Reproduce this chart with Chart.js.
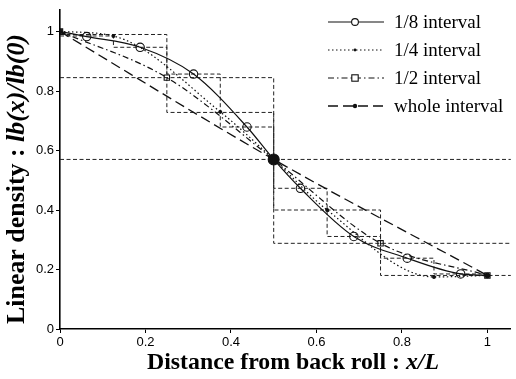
<!DOCTYPE html>
<html><head><meta charset="utf-8">
<script src="https://cdn.jsdelivr.net/npm/chart.js@4/dist/chart.umd.min.js"></script>
<style>html,body{margin:0;padding:0;background:#fff}canvas{display:block}</style>
</head><body>
<canvas id="c" width="516" height="379"></canvas>
<script>
// ---- data ----
const xTicks = [0, 0.2, 0.4, 0.6, 0.8, 1];
const yTicks = [0, 0.2, 0.4, 0.6, 0.8, 1];

const x8 = [0, 0.0625, 0.1875, 0.3125, 0.4375, 0.5, 0.5625, 0.6875, 0.8125, 0.9375, 1];
const y8 = [1.0, 0.983, 0.947, 0.857, 0.679, 0.57, 0.473, 0.311, 0.238, 0.185, 0.18];
const x4 = [0, 0.125, 0.375, 0.5, 0.625, 0.875, 1];
const y4 = [1.0, 0.985, 0.73, 0.57, 0.40, 0.175, 0.18];
const x2 = [0, 0.25, 0.5, 0.75, 1];
const y2 = [1.0, 0.845, 0.57, 0.288, 0.18];
const xW = [0, 0.5, 1];
const yW = [1.0, 0.57, 0.18];

const step8Bounds = [0, 0.125, 0.25, 0.375, 0.5, 0.625, 0.75, 0.875, 1];
const step8Values = [0.985, 0.947, 0.857, 0.679, 0.473, 0.311, 0.238, 0.185];
const step4Bounds = [0, 0.25, 0.5, 0.75, 1];
const step4Values = [0.99, 0.728, 0.40, 0.18];
const step2Bounds = [0, 0.5, 1];
const step2Values = [0.845, 0.288];
const stepWBounds = [0, 1];
const stepWValues = [0.57];

const seriesLabels = ['1/8 interval', '1/4 interval', '1/2 interval', 'whole interval'];

// ---- helpers ----
const X_MAX = 1.055, Y_MAX = 1.073;
const pts = (xs, ys) => xs.map((x, i) => ({x: x, y: ys[i]}));
const stepPts = (bounds, vals, xEnd) =>
  vals.map((v, i) => ({x: bounds[i], y: v})).concat([{x: xEnd, y: vals[vals.length - 1]}]);
const isBound = x => x === 0 || x === 0.5 || x === 1;

const INK = '#111';
const styles = [
  {dash: [], width: 1.2, marker: 'circle', r: 4.2, fill: 'rgba(255,255,255,0)'},
  {dash: [1.5, 2.5], width: 1.2, marker: 'circle', r: 1.4, fill: INK},
  {dash: [6, 3, 1.5, 3], width: 1.2, marker: 'rect', r: 3.8, fill: 'rgba(255,255,255,0)'},
  {dash: [10, 5], width: 1.3, marker: 'circle', r: 2.2, fill: INK}
];
const stepStyle = {borderColor: '#222', borderWidth: 1, borderDash: [4, 2.5], pointRadius: 0,
  stepped: true, fill: false, tension: 0};

const curve = (i, data, radiusFn) => ({
  label: seriesLabels[i], data: data, borderColor: INK, borderWidth: styles[i].width,
  borderDash: styles[i].dash, fill: false, cubicInterpolationMode: 'monotone',
  pointStyle: styles[i].marker, pointRadius: radiusFn, pointBorderColor: INK,
  pointBorderWidth: 1.1, pointBackgroundColor: styles[i].fill
});

const datasets = [
  Object.assign(curve(3, pts(xW, yW), c => (c.raw && c.raw.x === 0.5) ? 5.5 : styles[3].r),
    {pointBackgroundColor: INK}),
  curve(0, pts(x8, y8), c => (c.raw && isBound(c.raw.x)) ? 0 : styles[0].r),
  curve(1, pts(x4, y4), c => (c.raw && isBound(c.raw.x)) ? 0 : styles[1].r),
  curve(2, pts(x2, y2), c => (c.raw && c.raw.x === 0.5) ? 0 : styles[2].r),
  Object.assign({label: 'step8', data: stepPts(step8Bounds, step8Values, 1)}, stepStyle),
  Object.assign({label: 'step4', data: stepPts(step4Bounds, step4Values, X_MAX)}, stepStyle),
  Object.assign({label: 'step2', data: stepPts(step2Bounds, step2Values, X_MAX)}, stepStyle),
  Object.assign({label: 'stepW', data: stepPts(stepWBounds, stepWValues, X_MAX)}, stepStyle)
];

const SERIF = '"Liberation Serif", "Times New Roman", serif';
function drawMixed(ctx, segs, cx, cy, angle, targetW) {
  ctx.save();
  ctx.translate(cx, cy);
  ctx.rotate(angle);
  const base = 20;
  let total = 0;
  segs.forEach(s => { ctx.font = s.style + ' ' + base + 'px ' + SERIF; total += ctx.measureText(s.text).width; });
  const size = base * targetW / total;
  total = 0;
  segs.forEach(s => { s.font = s.style + ' ' + size.toFixed(2) + 'px ' + SERIF; ctx.font = s.font;
    s.w = ctx.measureText(s.text).width; total += s.w; });
  let x = -total / 2;
  ctx.textBaseline = 'middle';
  ctx.textAlign = 'left';
  ctx.fillStyle = '#000';
  segs.forEach(s => { ctx.font = s.font; ctx.fillText(s.text, x, 0); x += s.w; });
  ctx.restore();
}

const overlay = {
  id: 'overlay',
  afterDraw(chart) {
    const ctx = chart.ctx;
    ctx.save();
    const rows = [22, 50, 78, 106];
    [0, 1, 2, 3].forEach((si, k) => {
      const y = rows[k], st = styles[si];
      ctx.strokeStyle = INK; ctx.lineWidth = st.width; ctx.setLineDash(st.dash);
      ctx.beginPath(); ctx.moveTo(328, y); ctx.lineTo(384, y); ctx.stroke();
      ctx.setLineDash([]);
      ctx.lineWidth = 1.1;
      const mx = 355;
      if (st.marker === 'rect') {
        ctx.fillStyle = '#fff';
        ctx.fillRect(mx - 3.2, y - 3.2, 6.4, 6.4);
        ctx.strokeRect(mx - 3.2, y - 3.2, 6.4, 6.4);
      } else {
        const r = si === 0 ? 3.4 : st.r;
        ctx.beginPath(); ctx.arc(mx, y, r, 0, Math.PI * 2);
        if (si === 0) { ctx.fillStyle = '#fff'; ctx.fill(); ctx.stroke(); }
        else { ctx.fillStyle = INK; ctx.fill(); }
      }
      ctx.fillStyle = '#000';
      ctx.font = '19px ' + SERIF;
      ctx.textBaseline = 'middle'; ctx.textAlign = 'left';
      ctx.fillText(seriesLabels[si], 394, y + 1);
    });
    ctx.restore();
    drawMixed(ctx, [{text: 'Distance from back roll : ', style: 'bold'}, {text: 'x/L', style: 'italic bold'}],
      293, 363, 0, 292);
    drawMixed(ctx, [{text: 'Linear density : ', style: 'bold'}, {text: 'lb(x)/lb(0)', style: 'italic bold'}],
      17, 179, -Math.PI / 2, 290);
  }
};

const tickFont = {family: '"Liberation Sans", Arial, sans-serif', size: 13};
new Chart(document.getElementById('c'), {
  type: 'line',
  data: {datasets: datasets},
  options: {
    responsive: false, animation: false, devicePixelRatio: 1,
    layout: {padding: {top: 5, right: 0, left: 0, bottom: 0}},
    plugins: {legend: {display: false}, tooltip: {enabled: false}},
    scales: {
      x: {
        type: 'linear', min: 0, max: X_MAX,
        afterFit: s => { s.height = 50; },
        afterBuildTicks: s => { s.ticks = xTicks.map(v => ({value: v})); },
        ticks: {color: '#000', font: tickFont, padding: 2, maxRotation: 0,
          callback: v => String(v)},
        grid: {drawOnChartArea: false, tickLength: 4, color: '#000'},
        border: {color: '#000', width: 1.6}
      },
      y: {
        type: 'linear', min: 0, max: Y_MAX,
        afterFit: s => { s.width = 60; },
        afterBuildTicks: s => { s.ticks = yTicks.map(v => ({value: v})); },
        ticks: {color: '#000', font: tickFont, padding: 2, callback: v => String(v)},
        grid: {drawOnChartArea: false, tickLength: 4, color: '#000'},
        border: {color: '#000', width: 1.6}
      }
    }
  },
  plugins: [overlay]
});
</script>
</body></html>
